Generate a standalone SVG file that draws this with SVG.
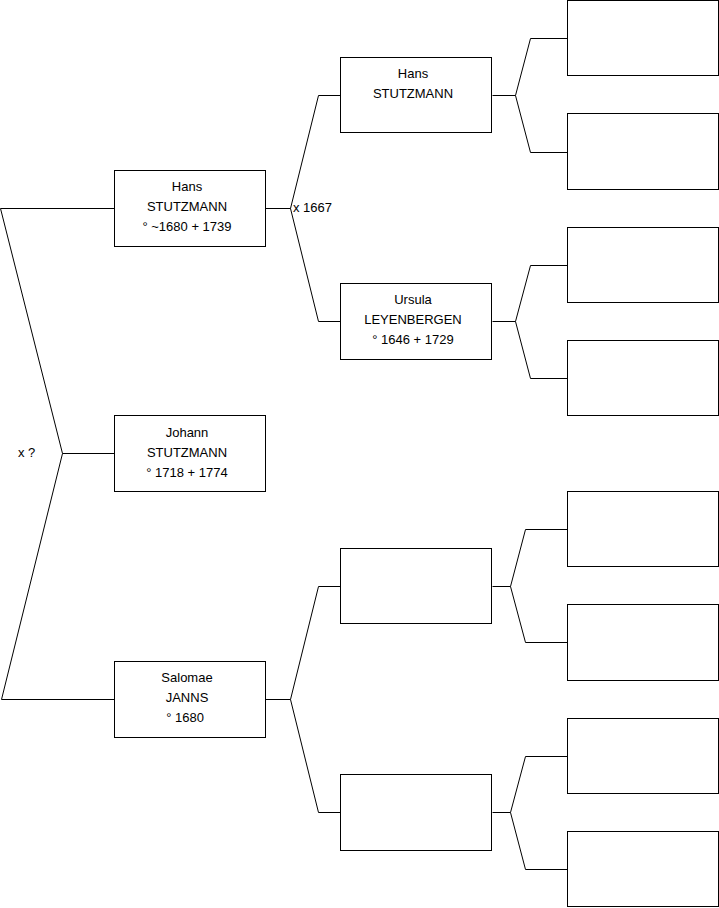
<svg xmlns="http://www.w3.org/2000/svg" width="719" height="908" viewBox="0 0 719 908">
<style>
.box{fill:#fff;stroke:#000;stroke-width:1}
.c{fill:none;stroke:#000;stroke-width:1}
text{font-family:"Liberation Sans",Arial,sans-serif;font-size:13px;fill:#000}
.m{text-anchor:middle}
</style>
<rect width="719" height="908" fill="#fff"/>
<g id="connectors">
<polyline class="c" points="114.5,208.5 0.5,208.5 62.5,453.5 1.5,699.5 114.5,699.5"/>
<line class="c" x1="62.5" y1="453.5" x2="114.5" y2="453.5"/>
<polyline class="c" points="340.5,95.5 318.5,95.5 290.5,208.5 318.5,321.5 340.5,321.5"/>
<line class="c" x1="265.5" y1="208.5" x2="290.5" y2="208.5"/>
<polyline class="c" points="340.5,586.5 318.5,586.5 290.5,699.5 318.5,812.5 340.5,812.5"/>
<line class="c" x1="265.5" y1="699.5" x2="290.5" y2="699.5"/>
<polyline class="c" points="567.5,38.5 530.5,38.5 515.5,95.5 530.5,152.5 567.5,152.5"/>
<line class="c" x1="492.5" y1="95.5" x2="515.5" y2="95.5"/>
<polyline class="c" points="567.5,265.5 530.5,265.5 515.5,321.5 530.5,378.5 567.5,378.5"/>
<line class="c" x1="492.5" y1="321.5" x2="515.5" y2="321.5"/>
<polyline class="c" points="567.5,529.5 525.5,529.5 510.5,586.5 525.5,642.5 567.5,642.5"/>
<line class="c" x1="492.5" y1="586.5" x2="510.5" y2="586.5"/>
<polyline class="c" points="567.5,756.5 525.5,756.5 510.5,812.5 525.5,869.5 567.5,869.5"/>
<line class="c" x1="492.5" y1="812.5" x2="510.5" y2="812.5"/>
<text x="18" y="457">x ?</text>
<text x="293" y="212">x 1667</text>
</g>
<g id="n-hans1">
<rect class="box" x="114.5" y="170.5" width="151" height="76"/>
<text class="m" x="187" y="191">Hans</text>
<text class="m" x="187" y="211">STUTZMANN</text>
<text class="m" x="187" y="231">° ~1680 + 1739</text>
</g>
<g id="n-johann">
<rect class="box" x="114.5" y="415.5" width="151" height="76"/>
<text class="m" x="187" y="437">Johann</text>
<text class="m" x="187" y="457">STUTZMANN</text>
<text class="m" x="187" y="477">° 1718 + 1774</text>
</g>
<g id="n-salomae">
<rect class="box" x="114.5" y="661.5" width="151" height="76"/>
<text class="m" x="187" y="682">Salomae</text>
<text class="m" x="187" y="702">JANNS</text>
<text class="m" x="185" y="722">° 1680</text>
</g>
<g id="n-hans2">
<rect class="box" x="340.5" y="57.5" width="151" height="75"/>
<text class="m" x="413" y="78">Hans</text>
<text class="m" x="413" y="98">STUTZMANN</text>
</g>
<g id="n-ursula">
<rect class="box" x="340.5" y="283.5" width="151" height="76"/>
<text class="m" x="413" y="304">Ursula</text>
<text class="m" x="413" y="324">LEYENBERGEN</text>
<text class="m" x="413" y="344">° 1646 + 1729</text>
</g>
<g id="n-g2c">
<rect class="box" x="340.5" y="548.5" width="151" height="75"/>
</g>
<g id="n-g2d">
<rect class="box" x="340.5" y="774.5" width="151" height="76"/>
</g>
<g id="n-g3a"><rect class="box" x="567.5" y="0.5" width="151" height="75"/></g>
<g id="n-g3b"><rect class="box" x="567.5" y="113.5" width="151" height="76"/></g>
<g id="n-g3c"><rect class="box" x="567.5" y="227.5" width="151" height="75"/></g>
<g id="n-g3d"><rect class="box" x="567.5" y="340.5" width="151" height="75"/></g>
<g id="n-g3e"><rect class="box" x="567.5" y="491.5" width="151" height="75"/></g>
<g id="n-g3f"><rect class="box" x="567.5" y="604.5" width="151" height="76"/></g>
<g id="n-g3g"><rect class="box" x="567.5" y="718.5" width="151" height="75"/></g>
<g id="n-g3h"><rect class="box" x="567.5" y="831.5" width="151" height="75"/></g>
</svg>
